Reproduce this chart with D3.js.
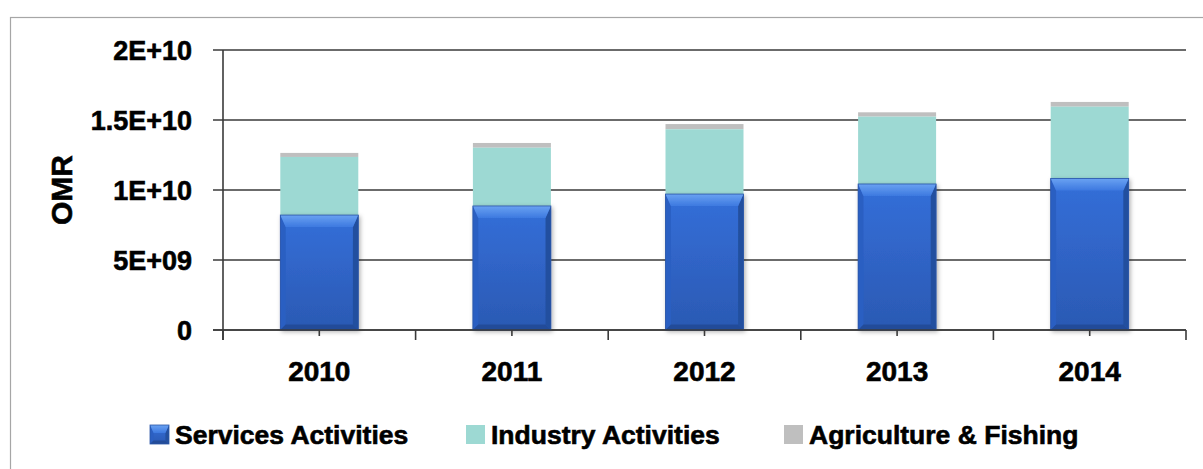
<!DOCTYPE html>
<html>
<head>
<meta charset="utf-8">
<script src="https://cdn.jsdelivr.net/npm/d3@7"></script>
<style>
  body { margin: 0; background: #fff; }
  svg { display: block; font-family: "Liberation Sans", Arial, sans-serif; }
  text { stroke: #000; stroke-width: 0.6px; }
</style>
</head>
<body>
<svg id="chart" width="1203" height="469"></svg>
<script>
// data
const years = ['2010', '2011', '2012', '2013', '2014'];
const services = [8.21e9, 8.86e9, 9.71e9, 10.43e9, 10.83e9];
const industry = [4.15e9, 4.16e9, 4.63e9, 4.81e9, 5.12e9];
const agriculture = [0.29e9, 0.34e9, 0.37e9, 0.31e9, 0.34e9];
const yTicks = [0, 5e9, 1e10, 1.5e10, 2e10];
const yTickLabels = ['0', '5E+09', '1E+10', '1.5E+10', '2E+10'];
const seriesNames = ['Services Activities', 'Industry Activities', 'Agriculture & Fishing'];

const svg = d3.select('#chart');
const m = { left: 223, right: 1186, top: 50, bottom: 330 };

// outer frame
svg.append('rect')
  .attr('x', 10.5).attr('y', 17.5).attr('width', 1220).attr('height', 480)
  .attr('fill', 'none').attr('stroke', '#a6a6a6').attr('stroke-width', 1.2);

const defs = svg.append('defs');
const g1 = defs.append('linearGradient').attr('id', 'blueBody')
  .attr('x1', 0).attr('y1', 0).attr('x2', 0).attr('y2', 1);
g1.append('stop').attr('offset', '0%').attr('stop-color', '#346fd9');
g1.append('stop').attr('offset', '100%').attr('stop-color', '#2b59b3');
const g2 = defs.append('linearGradient').attr('id', 'blueTop')
  .attr('x1', 0).attr('y1', 0).attr('x2', 0).attr('y2', 1);
g2.append('stop').attr('offset', '0%').attr('stop-color', '#6aa2f2');
g2.append('stop').attr('offset', '100%').attr('stop-color', '#3d79e0');
const sh = defs.append('filter').attr('id', 'shadow')
  .attr('x', '-20%').attr('y', '-20%').attr('width', '140%').attr('height', '140%');
sh.append('feDropShadow').attr('dx', 1.5).attr('dy', 1.5).attr('stdDeviation', 2)
  .attr('flood-color', '#000').attr('flood-opacity', 0.3);

const x = d3.scaleBand().domain(years).range([m.left, m.right]).paddingInner(0).paddingOuter(0);
const barW = x.bandwidth() * 0.405;
const y = d3.scaleLinear().domain([0, 2e10]).range([m.bottom, m.top]);

// gridlines (with tick stubs on the left)
svg.append('g').selectAll('line').data(yTicks).enter().append('line')
  .attr('x1', m.left - 10).attr('x2', m.right)
  .attr('y1', d => y(d)).attr('y2', d => y(d))
  .attr('stroke', '#3a3a3a').attr('stroke-width', 1.6);

// y labels
svg.append('g').selectAll('text').data(yTicks).enter().append('text')
  .attr('x', 192).attr('y', d => y(d)).attr('dy', '0.36em')
  .attr('text-anchor', 'end').attr('font-weight', 'bold').attr('font-size', 27)
  .text((d, i) => yTickLabels[i]);

svg.append('text')
  .attr('transform', 'translate(72,190) rotate(-90)')
  .attr('text-anchor', 'middle').attr('font-weight', 'bold').attr('font-size', 30)
  .text('OMR');

function bevelBar(sel, bx, by, w, h, b) {
  const gg = sel.append('g');
  gg.append('rect').attr('x', bx).attr('y', by).attr('width', w).attr('height', h).attr('fill', 'url(#blueBody)');
  const s = Math.min(b, h / 2);
  const side = s * 0.45;
  gg.append('polygon').attr('points', [[bx, by], [bx + side, by + s], [bx + side, by + h - side], [bx, by + h]].join(' '))
    .attr('fill', '#2b5fc2');
  gg.append('polygon').attr('points', [[bx + w, by], [bx + w - side, by + s], [bx + w - side, by + h - side], [bx + w, by + h]].join(' '))
    .attr('fill', '#24509f');
  gg.append('polygon').attr('points', [[bx, by + h], [bx + side, by + h - side], [bx + w - side, by + h - side], [bx + w, by + h]].join(' '))
    .attr('fill', '#234c99');
  gg.append('polygon').attr('points', [[bx, by], [bx + w, by], [bx + w - side, by + s], [bx + side, by + s]].join(' '))
    .attr('fill', 'url(#blueTop)');
  gg.append('rect').attr('x', bx).attr('y', by).attr('width', w).attr('height', h)
    .attr('fill', 'none').attr('stroke', '#2a55a6').attr('stroke-width', 0.8);
  return gg;
}

// bars
const bars = svg.append('g');
years.forEach((yr, i) => {
  const bx = x(yr) + (x.bandwidth() - barW) / 2;
  const s0 = y(services[i]);
  const i1 = y(services[i] + industry[i]);
  const a1 = y(services[i] + industry[i] + agriculture[i]);
  bars.append('rect').attr('x', bx).attr('y', a1).attr('width', barW).attr('height', i1 - a1).attr('fill', '#bfbfbf');
  bars.append('rect').attr('x', bx).attr('y', i1).attr('width', barW).attr('height', s0 - i1).attr('fill', '#9dd9d3');
  bevelBar(bars, bx, s0, barW, y(0) - s0, 12).attr('filter', 'url(#shadow)');
});

// axes lines
svg.append('line').attr('x1', m.left).attr('x2', m.left).attr('y1', m.top).attr('y2', m.bottom + 10)
  .attr('stroke', '#3a3a3a').attr('stroke-width', 1.6);
svg.append('line').attr('x1', m.left - 10).attr('x2', m.right).attr('y1', m.bottom).attr('y2', m.bottom)
  .attr('stroke', '#3a3a3a').attr('stroke-width', 1.6);
// boundary ticks
const bounds = years.map(d => x(d)).concat([m.right]);
svg.append('g').selectAll('line').data(bounds).enter().append('line')
  .attr('x1', d => d).attr('x2', d => d).attr('y1', m.bottom).attr('y2', m.bottom + 10)
  .attr('stroke', '#3a3a3a').attr('stroke-width', 1.6);
// center ticks
svg.append('g').selectAll('line').data(years).enter().append('line')
  .attr('x1', d => x(d) + x.bandwidth() / 2).attr('x2', d => x(d) + x.bandwidth() / 2)
  .attr('y1', m.bottom).attr('y2', m.bottom + 6)
  .attr('stroke', '#3a3a3a').attr('stroke-width', 1.6);

// x labels
svg.append('g').selectAll('text').data(years).enter().append('text')
  .attr('x', d => x(d) + x.bandwidth() / 2).attr('y', 381)
  .attr('text-anchor', 'middle').attr('font-weight', 'bold').attr('font-size', 28)
  .text(d => d);

// legend
const legendX = [150, 466, 784];
const legend = svg.append('g');
seriesNames.forEach((name, i) => {
  const lx = legendX[i];
  if (i === 0) {
    bevelBar(legend, lx, 425, 19, 19, 8);
  } else {
    legend.append('rect').attr('x', lx).attr('y', 425).attr('width', 19).attr('height', 19)
      .attr('fill', i === 1 ? '#9dd9d3' : '#bfbfbf');
  }
  legend.append('text').attr('x', lx + 25).attr('y', 444)
    .attr('font-weight', 'bold').attr('font-size', 26.5)
    .text(name);
});
</script>
</body>
</html>
